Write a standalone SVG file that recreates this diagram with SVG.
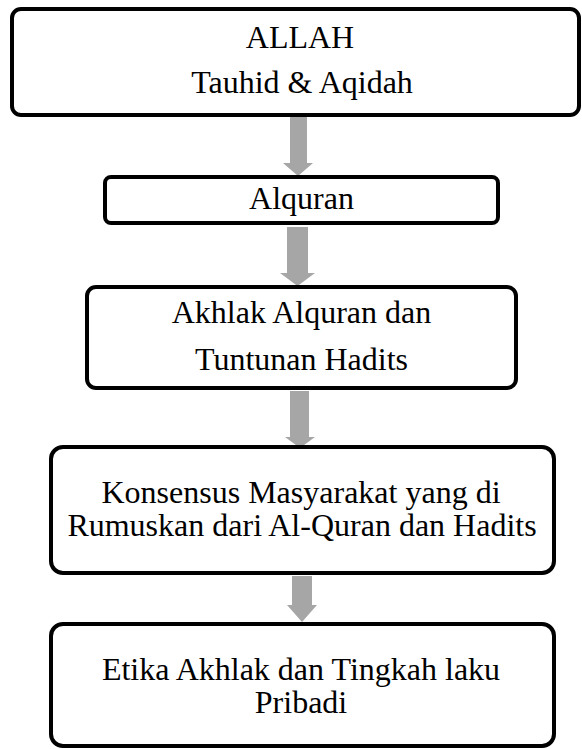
<svg xmlns="http://www.w3.org/2000/svg" width="582" height="749" viewBox="0 0 582 749">
<style>
.box{fill:#fff;stroke:#000;stroke-width:4}
.t{font-family:"Liberation Serif","Times New Roman",serif;font-size:32px;fill:#000;text-anchor:middle}
.arr{fill:#a6a6a6}
</style>
<rect x="0" y="0" width="582" height="749" fill="#fff"/>
<g id="connectors">
<polygon class="arr" points="290,117 307,117 307,163 313,163 298,176 283,163 290,163"/>
<polygon class="arr" points="287,227 308,227 308,273 315,273 297.5,286 280,273 287,273"/>
<polygon class="arr" points="290,391 309,391 309,437 315,437 300,448 285,437 290,437"/>
<polygon class="arr" points="292,576 312,576 312,605 317,605 302,622 287,605 292,605"/>
</g>
<g id="n1">
<rect class="box" x="12" y="9" width="567" height="106" rx="9"/>
<text class="t" x="300" y="48">ALLAH</text>
<text class="t" x="302" y="93">Tauhid &amp; Aqidah</text>
</g>
<g id="n2">
<rect class="box" x="105" y="177" width="393" height="46" rx="6"/>
<text class="t" x="301.5" y="209">Alquran</text>
</g>
<g id="n3">
<rect class="box" x="87" y="287" width="429" height="101" rx="9"/>
<text class="t" x="301.5" y="323">Akhlak Alquran dan</text>
<text class="t" x="301.5" y="370">Tuntunan Hadits</text>
</g>
<g id="n4">
<rect class="box" x="51" y="447" width="503" height="126" rx="12"/>
<text class="t" x="301" y="503">Konsensus Masyarakat yang di</text>
<text class="t" x="302" y="536">Rumuskan dari Al-Quran dan Hadits</text>
</g>
<g id="n5">
<rect class="box" x="51" y="624" width="503" height="122" rx="12"/>
<text class="t" x="301" y="680">Etika Akhlak dan Tingkah laku</text>
<text class="t" x="301" y="713">Pribadi</text>
</g>
</svg>
